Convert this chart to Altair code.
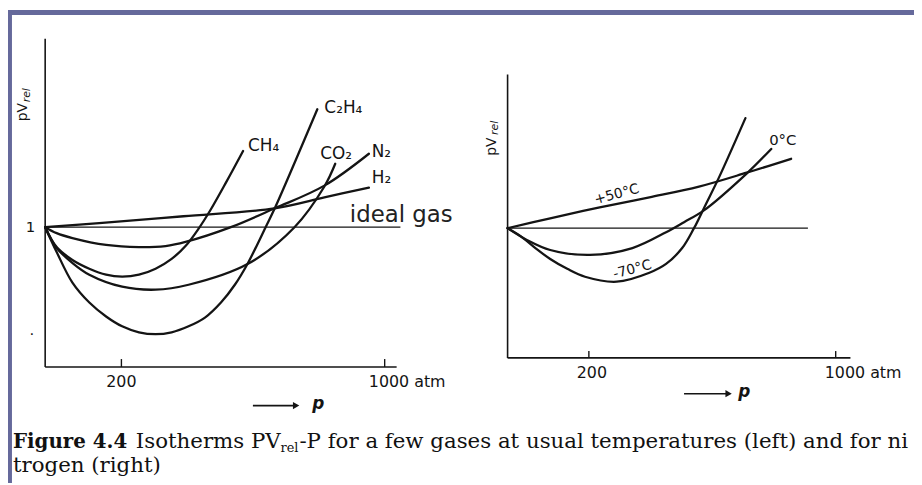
import altair as alt
import pandas as pd

INK = "#141414"
FRAME = "#65699b"

# ---------------- left panel: isotherms of several gases ----------------
gas_names = ["H₂", "N₂", "CH₄", "CO₂", "C₂H₄"]
h2_p = [0, 138, 380, 656, 810, 950]
h2_v = [1.0, 1.019, 1.051, 1.088, 1.139, 1.185]
n2_p = [0, 26, 66, 157, 250, 327, 386, 522, 656, 810, 950]
n2_v = [1.0, 0.972, 0.949, 0.917, 0.907, 0.912, 0.931, 1.0, 1.088, 1.194, 1.343]
ch4_p = [0, 26, 66, 111, 157, 202, 250, 298, 345, 386, 424, 460, 507, 559]
ch4_v = [1.0, 0.907, 0.847, 0.806, 0.778, 0.769, 0.778, 0.806, 0.852, 0.912, 0.991, 1.079, 1.208, 1.356]
co2_p = [0, 26, 66, 111, 202, 298, 395, 574, 717, 810, 844]
co2_v = [1.0, 0.903, 0.833, 0.778, 0.722, 0.708, 0.731, 0.829, 1.0, 1.190, 1.296]
c2h4_p = [0, 26, 66, 111, 157, 202, 250, 298, 345, 395, 445, 492, 534, 574, 628, 656, 788]
c2h4_v = [1.0, 0.884, 0.741, 0.648, 0.583, 0.537, 0.509, 0.5, 0.509, 0.537, 0.579, 0.648,
          0.731, 0.833, 1.0, 1.088, 1.551]
left_series = [h2_p, n2_p, ch4_p, co2_p, c2h4_p]
left_values = [h2_v, n2_v, ch4_v, co2_v, c2h4_v]

left_label_p = [959, 959, 574, 797, 810]
left_label_v = [1.204, 1.329, 1.356, 1.319, 1.532]

# ---------------- right panel: nitrogen at three temperatures ----------------
temp_names = ["+50°C", "0°C", "-70°C"]
t50_p = [0, 95, 231, 380, 537, 694, 845]
t50_v = [1.0, 1.046, 1.097, 1.144, 1.194, 1.259, 1.324]
t0_p = [0, 39, 95, 203, 328, 432, 489, 553, 694, 777]
t0_v = [1.0, 0.944, 0.898, 0.875, 0.907, 0.981, 1.028, 1.083, 1.255, 1.370]
tm70_p = [0, 24, 58, 95, 140, 189, 281, 380, 432, 483, 521, 559, 602, 690]
tm70_v = [1.0, 0.963, 0.907, 0.856, 0.810, 0.773, 0.750, 0.792, 0.833, 0.907, 1.0, 1.111, 1.236, 1.514]
right_series = [t50_p, t0_p, tm70_p]
right_values = [t50_v, t0_v, tm70_v]

x_ticks = [200, 1000]
x_tick_labels = ["200", "1000 atm"]

# ---------------- scales (pixel ranges inside the 914 x 477 canvas) ----------------
LX = alt.Scale(type="pow", exponent=0.928, domain=[0, 1000], range=[37.5, 380], nice=False, zero=False)
LY = alt.Scale(domain=[0.5, 1.0], range=[327, 219], nice=False, zero=False)
RX = alt.Scale(type="pow", exponent=0.867, domain=[0, 1000], range=[504, 835], nice=False, zero=False)
RY = alt.Scale(domain=[0.5, 1.0], range=[328, 220], nice=False, zero=False)


def xy(sx, sy, xf="p", yf="v"):
    return dict(x=alt.X(xf, type="quantitative", scale=sx, axis=None),
                y=alt.Y(yf, type="quantitative", scale=sy, axis=None))


def curves_df(names, ps, vs):
    rows = []
    for n, pp, vv in zip(names, ps, vs):
        for i, (a, b) in enumerate(zip(pp, vv)):
            rows.append({"name": n, "p": a, "v": b, "i": i})
    return pd.DataFrame(rows)


layers = []


def panel(sx, sy, names, ps, vs, ymin, ymax, xmax, ideal_end, label_v, dx_200, dx_1000,
          tick_len, arrow, p_label):
    # curves
    layers.append(alt.Chart(curves_df(names, ps, vs)).mark_line(
        interpolate="catmull-rom", strokeWidth=2.3, color=INK, strokeCap="round"
    ).encode(detail="name:N", order="i:Q", **xy(sx, sy)))
    # axes
    layers.append(alt.Chart(pd.DataFrame({"p": [0], "v": [ymin], "v2": [ymax]})).mark_rule(
        color=INK, strokeWidth=1.6).encode(y2="v2:Q", **xy(sx, sy)))
    layers.append(alt.Chart(pd.DataFrame({"p": [0], "p2": [xmax], "v": [ymin]})).mark_rule(
        color=INK, strokeWidth=1.6).encode(x2="p2:Q", **xy(sx, sy)))
    # ideal gas line
    layers.append(alt.Chart(pd.DataFrame({"p": [0], "p2": [ideal_end], "v": [1.0]})).mark_rule(
        color=INK, strokeWidth=1.3).encode(x2="p2:Q", **xy(sx, sy)))
    # ticks
    layers.append(alt.Chart(pd.DataFrame({"p": x_ticks, "v": [ymin] * 2, "v2": [ymin + tick_len] * 2})).mark_rule(
        color=INK, strokeWidth=1.4).encode(y2="v2:Q", **xy(sx, sy)))
    # tick labels
    layers.append(alt.Chart(pd.DataFrame({"p": [x_ticks[0]], "v": [label_v], "t": [x_tick_labels[0]]})).mark_text(
        font="DejaVu Sans", fontSize=16, color=INK, align="center", baseline="alphabetic", dx=dx_200
    ).encode(text="t:N", **xy(sx, sy)))
    layers.append(alt.Chart(pd.DataFrame({"p": [x_ticks[1]], "v": [label_v], "t": [x_tick_labels[1]]})).mark_text(
        font="DejaVu Sans", fontSize=16, color=INK, align="left", baseline="alphabetic", dx=dx_1000
    ).encode(text="t:N", **xy(sx, sy)))
    # arrow  -> p
    a0, a1, av, lp, lv = arrow
    layers.append(alt.Chart(pd.DataFrame({"p": [a0], "p2": [a1], "v": [av]})).mark_rule(
        color=INK, strokeWidth=1.6).encode(x2="p2:Q", **xy(sx, sy)))
    layers.append(alt.Chart(pd.DataFrame({"p": [a1], "v": [av]})).mark_point(
        shape="triangle-right", filled=True, size=55, color=INK, opacity=1).encode(**xy(sx, sy)))
    layers.append(alt.Chart(pd.DataFrame({"p": [lp], "v": [lv], "t": ["p"]})).mark_text(
        font="DejaVu Sans", fontSize=17, fontStyle="italic", fontWeight="bold", color=INK,
        align="left", baseline="alphabetic").encode(text="t:N", **xy(sx, sy)))
    # y label pV_rel (rotated)
    (pv_p, pv_v), (rel_p, rel_v) = p_label
    layers.append(alt.Chart(pd.DataFrame({"p": [pv_p], "v": [pv_v], "t": ["pV"]})).mark_text(
        font="DejaVu Sans", fontSize=14, color=INK, angle=270, align="left", baseline="alphabetic"
    ).encode(text="t:N", **xy(sx, sy)))
    layers.append(alt.Chart(pd.DataFrame({"p": [rel_p], "v": [rel_v], "t": ["rel"]})).mark_text(
        font="DejaVu Sans", fontSize=11, fontStyle="italic", color=INK, angle=270, align="left",
        baseline="alphabetic").encode(text="t:N", **xy(sx, sy)))


panel(LX, LY, gas_names, left_series, left_values, 0.347, 1.880, 1038, 1050, 0.2546, 0, -16,
      0.037, (589, 722, 0.1667, 772, 0.153), ((-43, 1.495), (-36, 1.583)))
panel(RX, RY, temp_names, right_series, right_values, 0.394, 1.718, 1052, 903, 0.301, 3, -11,
      0.032, (489, 634, 0.2269, 666, 0.213), ((-22, 1.338), (-16, 1.435)))

# gas labels
layers.append(alt.Chart(pd.DataFrame({"p": left_label_p, "v": left_label_v, "t": gas_names})).mark_text(
    font="DejaVu Sans", fontSize=17, color=INK, align="left", baseline="alphabetic"
).encode(text="t:N", **xy(LX, LY)))
layers.append(alt.Chart(pd.DataFrame({"p": [890], "v": [1.023], "t": ["ideal gas"]})).mark_text(
    font="DejaVu Sans", fontSize=23, color="#222222", align="left", baseline="alphabetic"
).encode(text="t:N", **xy(LX, LY)))
layers.append(alt.Chart(pd.DataFrame({"p": [0], "v": [1.0], "t": ["1"]})).mark_text(
    font="DejaVu Sans", fontSize=15, color=INK, align="right", baseline="middle", dx=-10
).encode(text="t:N", **xy(LX, LY)))
layers.append(alt.Chart(pd.DataFrame({"p": [0], "v": [0.5], "t": ["·"]})).mark_text(
    font="DejaVu Sans", fontSize=15, color=INK, align="right", baseline="middle", dx=-11
).encode(text="t:N", **xy(LX, LY)))

# temperature labels
layers.append(alt.Chart(pd.DataFrame({"p": [281, 328], "v": [1.157, 0.806], "t": ["+50°C", "-70°C"]})).mark_text(
    font="DejaVu Sans", fontSize=14, color=INK, align="center", baseline="middle", angle=345
).encode(text="t:N", **xy(RX, RY)))
layers.append(alt.Chart(pd.DataFrame({"p": [770], "v": [1.39], "t": ["0°C"]})).mark_text(
    font="DejaVu Sans", fontSize=15, color=INK, align="left", baseline="alphabetic"
).encode(text="t:N", **xy(RX, RY)))

# frame bars
one = pd.DataFrame({"a": [0]})
layers.append(alt.Chart(one).mark_rect(color=FRAME).encode(
    x=alt.value(-1), x2=alt.value(914), y=alt.value(0), y2=alt.value(5)))
layers.append(alt.Chart(one).mark_rect(color=FRAME).encode(
    x=alt.value(-1), x2=alt.value(4), y=alt.value(0), y2=alt.value(477)))

# caption
cap_font = "DejaVu Serif"
caption_parts = [
    ("Figure 4.4", 5, 442, 20, "bold"),
    ("Isotherms PV", 129, 442, 21.5, "normal"),
    ("rel", 275, 446, 13, "normal"),
    ("-P for a few gases at usual temperatures (left) and for ni", 294, 442, 21.5, "normal"),
    ("trogen (right)", 5, 466, 21.5, "normal"),
]
for txt, cx, cy, fs, fw in caption_parts:
    layers.append(alt.Chart(one).mark_text(
        font=cap_font, fontSize=fs, fontWeight=fw, color="#111111", align="left", baseline="alphabetic"
    ).encode(x=alt.value(cx), y=alt.value(cy), text=alt.value(txt)))

chart = alt.layer(*layers).resolve_scale(x="independent", y="independent").properties(
    width=914, height=477, padding=0, autosize=alt.AutoSizeParams(type="none"), background="white"
).configure_view(stroke=None)

chart.save("out.html", embed_options={"renderer": "svg", "actions": False})
